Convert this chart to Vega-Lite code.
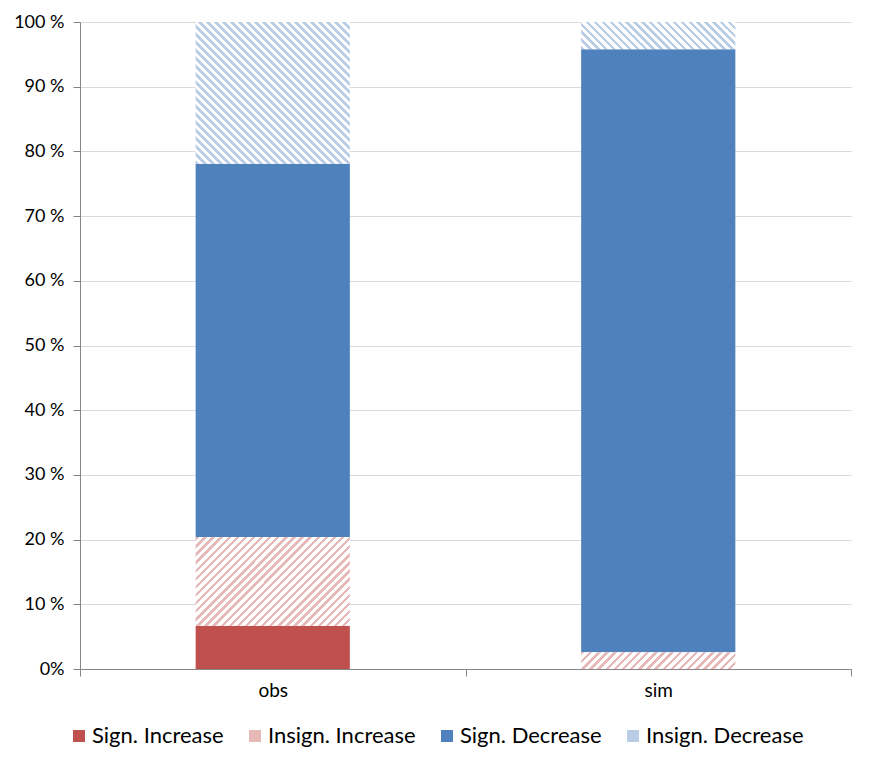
{
  "$schema": "https://vega.github.io/schema/vega-lite/v6.json",
  "width": 771,
  "height": 647,
  "autosize": "none",
  "padding": {"left": 80, "top": 22, "right": 18, "bottom": 97},
  "background": "#ffffff",
  "config": {
    "view": {"stroke": null},
    "font": "Lato",
    "axis": {"labelFont": "Lato", "labelColor": "#000000"}
  },
  "data": {
    "values": [
      {"bar": "obs", "cat": "Sign. Increase", "rank": 1, "pct": 6.7},
      {"bar": "obs", "cat": "Insign. Increase", "rank": 2, "pct": 13.7},
      {"bar": "obs", "cat": "Sign. Decrease", "rank": 3, "pct": 57.7},
      {"bar": "obs", "cat": "Insign. Decrease", "rank": 4, "pct": 21.9},
      {"bar": "sim", "cat": "Sign. Increase", "rank": 1, "pct": 0},
      {"bar": "sim", "cat": "Insign. Increase", "rank": 2, "pct": 2.6},
      {"bar": "sim", "cat": "Sign. Decrease", "rank": 3, "pct": 93.2},
      {"bar": "sim", "cat": "Insign. Decrease", "rank": 4, "pct": 4.2}
    ]
  },
  "transform": [
    {"stack": "pct", "groupby": ["bar"], "sort": [{"field": "rank", "order": "ascending"}], "as": ["y0", "y1"]}
  ],
  "encoding": {
    "x": {
      "field": "bar", "type": "nominal",
      "scale": {"paddingInner": 0, "paddingOuter": 0},
      "axis": {"title": null, "labelAngle": 0, "labelFontSize": 19, "tickBand": "extent", "tickSize": 7, "tickColor": "#868686", "domainColor": "#868686", "labelPadding": 5, "grid": false}
    },
    "y": {
      "field": "y0", "type": "quantitative",
      "scale": {"domain": [0, 100], "nice": false},
      "axis": {"title": null, "labelFontSize": 18, "values": [0, 10, 20, 30, 40, 50, 60, 70, 80, 90, 100], "labelExpr": "datum.value == 0 ? '0%' : datum.value + ' %'", "tickSize": 7, "tickColor": "#868686", "domainColor": "#868686", "gridColor": "#d9d9d9", "labelPadding": 9}
    },
    "y2": {"field": "y1"}
  },
  "layer": [
    {
      "transform": [{"filter": "datum.rank == 1 || datum.rank == 3"}],
      "mark": {"type": "bar", "width": {"band": 0.4}},
      "encoding": {
        "color": {
          "field": "cat", "type": "nominal",
          "scale": {
            "domain": ["Sign. Increase", "Insign. Increase", "Sign. Decrease", "Insign. Decrease"],
            "range": ["#c0504d", "#e6b9b8", "#4f81bd", "#b9cde5"]
          },
          "legend": {
            "orient": "none", "legendX": -12, "legendY": 703, "direction": "horizontal", "title": null,
            "labelFont": "Lato", "labelFontSize": 22, "labelColor": "#000000",
            "symbolType": "square", "symbolSize": 144, "symbolStrokeWidth": 0, "symbolOpacity": 1,
            "columnPadding": 20, "labelOffset": 2, "padding": 0
          }
        }
      }
    },
    {
      "transform": [{"filter": "datum.bar == 'obs' && datum.rank == 2"}],
      "mark": {"type": "bar", "width": {"band": 0.4}, "fill": {"gradient": "linear", "x1": 0, "y1": 0, "x2": 1.1838, "y2": 0.6802, "stops": [
        {"offset": 0, "color": "#e6b9b8"}, {"offset": 0.014, "color": "#e6b9b8"}, {"offset": 0.014, "color": "#ffffff"}, {"offset": 0.0333, "color": "#ffffff"},
        {"offset": 0.0333, "color": "#e6b9b8"}, {"offset": 0.0473, "color": "#e6b9b8"}, {"offset": 0.0473, "color": "#ffffff"}, {"offset": 0.0667, "color": "#ffffff"},
        {"offset": 0.0667, "color": "#e6b9b8"}, {"offset": 0.0807, "color": "#e6b9b8"}, {"offset": 0.0807, "color": "#ffffff"}, {"offset": 0.1, "color": "#ffffff"},
        {"offset": 0.1, "color": "#e6b9b8"}, {"offset": 0.114, "color": "#e6b9b8"}, {"offset": 0.114, "color": "#ffffff"}, {"offset": 0.1333, "color": "#ffffff"},
        {"offset": 0.1333, "color": "#e6b9b8"}, {"offset": 0.1473, "color": "#e6b9b8"}, {"offset": 0.1473, "color": "#ffffff"}, {"offset": 0.1667, "color": "#ffffff"},
        {"offset": 0.1667, "color": "#e6b9b8"}, {"offset": 0.1807, "color": "#e6b9b8"}, {"offset": 0.1807, "color": "#ffffff"}, {"offset": 0.2, "color": "#ffffff"},
        {"offset": 0.2, "color": "#e6b9b8"}, {"offset": 0.214, "color": "#e6b9b8"}, {"offset": 0.214, "color": "#ffffff"}, {"offset": 0.2333, "color": "#ffffff"},
        {"offset": 0.2333, "color": "#e6b9b8"}, {"offset": 0.2473, "color": "#e6b9b8"}, {"offset": 0.2473, "color": "#ffffff"}, {"offset": 0.2667, "color": "#ffffff"},
        {"offset": 0.2667, "color": "#e6b9b8"}, {"offset": 0.2807, "color": "#e6b9b8"}, {"offset": 0.2807, "color": "#ffffff"}, {"offset": 0.3, "color": "#ffffff"},
        {"offset": 0.3, "color": "#e6b9b8"}, {"offset": 0.314, "color": "#e6b9b8"}, {"offset": 0.314, "color": "#ffffff"}, {"offset": 0.3333, "color": "#ffffff"},
        {"offset": 0.3333, "color": "#e6b9b8"}, {"offset": 0.3473, "color": "#e6b9b8"}, {"offset": 0.3473, "color": "#ffffff"}, {"offset": 0.3667, "color": "#ffffff"},
        {"offset": 0.3667, "color": "#e6b9b8"}, {"offset": 0.3807, "color": "#e6b9b8"}, {"offset": 0.3807, "color": "#ffffff"}, {"offset": 0.4, "color": "#ffffff"},
        {"offset": 0.4, "color": "#e6b9b8"}, {"offset": 0.414, "color": "#e6b9b8"}, {"offset": 0.414, "color": "#ffffff"}, {"offset": 0.4333, "color": "#ffffff"},
        {"offset": 0.4333, "color": "#e6b9b8"}, {"offset": 0.4473, "color": "#e6b9b8"}, {"offset": 0.4473, "color": "#ffffff"}, {"offset": 0.4667, "color": "#ffffff"},
        {"offset": 0.4667, "color": "#e6b9b8"}, {"offset": 0.4807, "color": "#e6b9b8"}, {"offset": 0.4807, "color": "#ffffff"}, {"offset": 0.5, "color": "#ffffff"},
        {"offset": 0.5, "color": "#e6b9b8"}, {"offset": 0.514, "color": "#e6b9b8"}, {"offset": 0.514, "color": "#ffffff"}, {"offset": 0.5333, "color": "#ffffff"},
        {"offset": 0.5333, "color": "#e6b9b8"}, {"offset": 0.5473, "color": "#e6b9b8"}, {"offset": 0.5473, "color": "#ffffff"}, {"offset": 0.5667, "color": "#ffffff"},
        {"offset": 0.5667, "color": "#e6b9b8"}, {"offset": 0.5807, "color": "#e6b9b8"}, {"offset": 0.5807, "color": "#ffffff"}, {"offset": 0.6, "color": "#ffffff"},
        {"offset": 0.6, "color": "#e6b9b8"}, {"offset": 0.614, "color": "#e6b9b8"}, {"offset": 0.614, "color": "#ffffff"}, {"offset": 0.6333, "color": "#ffffff"},
        {"offset": 0.6333, "color": "#e6b9b8"}, {"offset": 0.6473, "color": "#e6b9b8"}, {"offset": 0.6473, "color": "#ffffff"}, {"offset": 0.6667, "color": "#ffffff"},
        {"offset": 0.6667, "color": "#e6b9b8"}, {"offset": 0.6807, "color": "#e6b9b8"}, {"offset": 0.6807, "color": "#ffffff"}, {"offset": 0.7, "color": "#ffffff"},
        {"offset": 0.7, "color": "#e6b9b8"}, {"offset": 0.714, "color": "#e6b9b8"}, {"offset": 0.714, "color": "#ffffff"}, {"offset": 0.7333, "color": "#ffffff"},
        {"offset": 0.7333, "color": "#e6b9b8"}, {"offset": 0.7473, "color": "#e6b9b8"}, {"offset": 0.7473, "color": "#ffffff"}, {"offset": 0.7667, "color": "#ffffff"},
        {"offset": 0.7667, "color": "#e6b9b8"}, {"offset": 0.7807, "color": "#e6b9b8"}, {"offset": 0.7807, "color": "#ffffff"}, {"offset": 0.8, "color": "#ffffff"},
        {"offset": 0.8, "color": "#e6b9b8"}, {"offset": 0.814, "color": "#e6b9b8"}, {"offset": 0.814, "color": "#ffffff"}, {"offset": 0.8333, "color": "#ffffff"},
        {"offset": 0.8333, "color": "#e6b9b8"}, {"offset": 0.8473, "color": "#e6b9b8"}, {"offset": 0.8473, "color": "#ffffff"}, {"offset": 0.8667, "color": "#ffffff"},
        {"offset": 0.8667, "color": "#e6b9b8"}, {"offset": 0.8807, "color": "#e6b9b8"}, {"offset": 0.8807, "color": "#ffffff"}, {"offset": 0.9, "color": "#ffffff"},
        {"offset": 0.9, "color": "#e6b9b8"}, {"offset": 0.914, "color": "#e6b9b8"}, {"offset": 0.914, "color": "#ffffff"}, {"offset": 0.9333, "color": "#ffffff"},
        {"offset": 0.9333, "color": "#e6b9b8"}, {"offset": 0.9473, "color": "#e6b9b8"}, {"offset": 0.9473, "color": "#ffffff"}, {"offset": 0.9667, "color": "#ffffff"},
        {"offset": 0.9667, "color": "#e6b9b8"}, {"offset": 0.9807, "color": "#e6b9b8"}, {"offset": 0.9807, "color": "#ffffff"}, {"offset": 1, "color": "#ffffff"}
      ]}}
    },
    {
      "transform": [{"filter": "datum.bar == 'obs' && datum.rank == 4"}],
      "mark": {"type": "bar", "width": {"band": 0.4}, "fill": {"gradient": "linear", "x1": 0, "y1": 1, "x2": 1.0404, "y2": 0.0439, "stops": [
        {"offset": 0, "color": "#b9cde5"}, {"offset": 0.0114, "color": "#b9cde5"}, {"offset": 0.0114, "color": "#ffffff"}, {"offset": 0.027, "color": "#ffffff"},
        {"offset": 0.027, "color": "#b9cde5"}, {"offset": 0.0384, "color": "#b9cde5"}, {"offset": 0.0384, "color": "#ffffff"}, {"offset": 0.0541, "color": "#ffffff"},
        {"offset": 0.0541, "color": "#b9cde5"}, {"offset": 0.0655, "color": "#b9cde5"}, {"offset": 0.0655, "color": "#ffffff"}, {"offset": 0.0811, "color": "#ffffff"},
        {"offset": 0.0811, "color": "#b9cde5"}, {"offset": 0.0925, "color": "#b9cde5"}, {"offset": 0.0925, "color": "#ffffff"}, {"offset": 0.1081, "color": "#ffffff"},
        {"offset": 0.1081, "color": "#b9cde5"}, {"offset": 0.1195, "color": "#b9cde5"}, {"offset": 0.1195, "color": "#ffffff"}, {"offset": 0.1351, "color": "#ffffff"},
        {"offset": 0.1351, "color": "#b9cde5"}, {"offset": 0.1465, "color": "#b9cde5"}, {"offset": 0.1465, "color": "#ffffff"}, {"offset": 0.1622, "color": "#ffffff"},
        {"offset": 0.1622, "color": "#b9cde5"}, {"offset": 0.1736, "color": "#b9cde5"}, {"offset": 0.1736, "color": "#ffffff"}, {"offset": 0.1892, "color": "#ffffff"},
        {"offset": 0.1892, "color": "#b9cde5"}, {"offset": 0.2006, "color": "#b9cde5"}, {"offset": 0.2006, "color": "#ffffff"}, {"offset": 0.2162, "color": "#ffffff"},
        {"offset": 0.2162, "color": "#b9cde5"}, {"offset": 0.2276, "color": "#b9cde5"}, {"offset": 0.2276, "color": "#ffffff"}, {"offset": 0.2432, "color": "#ffffff"},
        {"offset": 0.2432, "color": "#b9cde5"}, {"offset": 0.2546, "color": "#b9cde5"}, {"offset": 0.2546, "color": "#ffffff"}, {"offset": 0.2703, "color": "#ffffff"},
        {"offset": 0.2703, "color": "#b9cde5"}, {"offset": 0.2817, "color": "#b9cde5"}, {"offset": 0.2817, "color": "#ffffff"}, {"offset": 0.2973, "color": "#ffffff"},
        {"offset": 0.2973, "color": "#b9cde5"}, {"offset": 0.3087, "color": "#b9cde5"}, {"offset": 0.3087, "color": "#ffffff"}, {"offset": 0.3243, "color": "#ffffff"},
        {"offset": 0.3243, "color": "#b9cde5"}, {"offset": 0.3357, "color": "#b9cde5"}, {"offset": 0.3357, "color": "#ffffff"}, {"offset": 0.3514, "color": "#ffffff"},
        {"offset": 0.3514, "color": "#b9cde5"}, {"offset": 0.3628, "color": "#b9cde5"}, {"offset": 0.3628, "color": "#ffffff"}, {"offset": 0.3784, "color": "#ffffff"},
        {"offset": 0.3784, "color": "#b9cde5"}, {"offset": 0.3898, "color": "#b9cde5"}, {"offset": 0.3898, "color": "#ffffff"}, {"offset": 0.4054, "color": "#ffffff"},
        {"offset": 0.4054, "color": "#b9cde5"}, {"offset": 0.4168, "color": "#b9cde5"}, {"offset": 0.4168, "color": "#ffffff"}, {"offset": 0.4324, "color": "#ffffff"},
        {"offset": 0.4324, "color": "#b9cde5"}, {"offset": 0.4438, "color": "#b9cde5"}, {"offset": 0.4438, "color": "#ffffff"}, {"offset": 0.4595, "color": "#ffffff"},
        {"offset": 0.4595, "color": "#b9cde5"}, {"offset": 0.4709, "color": "#b9cde5"}, {"offset": 0.4709, "color": "#ffffff"}, {"offset": 0.4865, "color": "#ffffff"},
        {"offset": 0.4865, "color": "#b9cde5"}, {"offset": 0.4979, "color": "#b9cde5"}, {"offset": 0.4979, "color": "#ffffff"}, {"offset": 0.5135, "color": "#ffffff"},
        {"offset": 0.5135, "color": "#b9cde5"}, {"offset": 0.5249, "color": "#b9cde5"}, {"offset": 0.5249, "color": "#ffffff"}, {"offset": 0.5405, "color": "#ffffff"},
        {"offset": 0.5405, "color": "#b9cde5"}, {"offset": 0.5519, "color": "#b9cde5"}, {"offset": 0.5519, "color": "#ffffff"}, {"offset": 0.5676, "color": "#ffffff"},
        {"offset": 0.5676, "color": "#b9cde5"}, {"offset": 0.579, "color": "#b9cde5"}, {"offset": 0.579, "color": "#ffffff"}, {"offset": 0.5946, "color": "#ffffff"},
        {"offset": 0.5946, "color": "#b9cde5"}, {"offset": 0.606, "color": "#b9cde5"}, {"offset": 0.606, "color": "#ffffff"}, {"offset": 0.6216, "color": "#ffffff"},
        {"offset": 0.6216, "color": "#b9cde5"}, {"offset": 0.633, "color": "#b9cde5"}, {"offset": 0.633, "color": "#ffffff"}, {"offset": 0.6486, "color": "#ffffff"},
        {"offset": 0.6486, "color": "#b9cde5"}, {"offset": 0.66, "color": "#b9cde5"}, {"offset": 0.66, "color": "#ffffff"}, {"offset": 0.6757, "color": "#ffffff"},
        {"offset": 0.6757, "color": "#b9cde5"}, {"offset": 0.6871, "color": "#b9cde5"}, {"offset": 0.6871, "color": "#ffffff"}, {"offset": 0.7027, "color": "#ffffff"},
        {"offset": 0.7027, "color": "#b9cde5"}, {"offset": 0.7141, "color": "#b9cde5"}, {"offset": 0.7141, "color": "#ffffff"}, {"offset": 0.7297, "color": "#ffffff"},
        {"offset": 0.7297, "color": "#b9cde5"}, {"offset": 0.7411, "color": "#b9cde5"}, {"offset": 0.7411, "color": "#ffffff"}, {"offset": 0.7568, "color": "#ffffff"},
        {"offset": 0.7568, "color": "#b9cde5"}, {"offset": 0.7682, "color": "#b9cde5"}, {"offset": 0.7682, "color": "#ffffff"}, {"offset": 0.7838, "color": "#ffffff"},
        {"offset": 0.7838, "color": "#b9cde5"}, {"offset": 0.7952, "color": "#b9cde5"}, {"offset": 0.7952, "color": "#ffffff"}, {"offset": 0.8108, "color": "#ffffff"},
        {"offset": 0.8108, "color": "#b9cde5"}, {"offset": 0.8222, "color": "#b9cde5"}, {"offset": 0.8222, "color": "#ffffff"}, {"offset": 0.8378, "color": "#ffffff"},
        {"offset": 0.8378, "color": "#b9cde5"}, {"offset": 0.8492, "color": "#b9cde5"}, {"offset": 0.8492, "color": "#ffffff"}, {"offset": 0.8649, "color": "#ffffff"},
        {"offset": 0.8649, "color": "#b9cde5"}, {"offset": 0.8763, "color": "#b9cde5"}, {"offset": 0.8763, "color": "#ffffff"}, {"offset": 0.8919, "color": "#ffffff"},
        {"offset": 0.8919, "color": "#b9cde5"}, {"offset": 0.9033, "color": "#b9cde5"}, {"offset": 0.9033, "color": "#ffffff"}, {"offset": 0.9189, "color": "#ffffff"},
        {"offset": 0.9189, "color": "#b9cde5"}, {"offset": 0.9303, "color": "#b9cde5"}, {"offset": 0.9303, "color": "#ffffff"}, {"offset": 0.9459, "color": "#ffffff"},
        {"offset": 0.9459, "color": "#b9cde5"}, {"offset": 0.9573, "color": "#b9cde5"}, {"offset": 0.9573, "color": "#ffffff"}, {"offset": 0.973, "color": "#ffffff"},
        {"offset": 0.973, "color": "#b9cde5"}, {"offset": 0.9844, "color": "#b9cde5"}, {"offset": 0.9844, "color": "#ffffff"}, {"offset": 1, "color": "#ffffff"}
      ]}}
    },
    {
      "transform": [{"filter": "datum.bar == 'sim' && datum.rank == 2"}],
      "mark": {"type": "bar", "width": {"band": 0.4}, "fill": {"gradient": "linear", "x1": 0, "y1": 0, "x2": 1.096, "y2": 0.1194, "stops": [
        {"offset": 0, "color": "#e6b9b8"}, {"offset": 0.02, "color": "#e6b9b8"}, {"offset": 0.02, "color": "#ffffff"}, {"offset": 0.0476, "color": "#ffffff"},
        {"offset": 0.0476, "color": "#e6b9b8"}, {"offset": 0.0676, "color": "#e6b9b8"}, {"offset": 0.0676, "color": "#ffffff"}, {"offset": 0.0952, "color": "#ffffff"},
        {"offset": 0.0952, "color": "#e6b9b8"}, {"offset": 0.1152, "color": "#e6b9b8"}, {"offset": 0.1152, "color": "#ffffff"}, {"offset": 0.1429, "color": "#ffffff"},
        {"offset": 0.1429, "color": "#e6b9b8"}, {"offset": 0.1629, "color": "#e6b9b8"}, {"offset": 0.1629, "color": "#ffffff"}, {"offset": 0.1905, "color": "#ffffff"},
        {"offset": 0.1905, "color": "#e6b9b8"}, {"offset": 0.2105, "color": "#e6b9b8"}, {"offset": 0.2105, "color": "#ffffff"}, {"offset": 0.2381, "color": "#ffffff"},
        {"offset": 0.2381, "color": "#e6b9b8"}, {"offset": 0.2581, "color": "#e6b9b8"}, {"offset": 0.2581, "color": "#ffffff"}, {"offset": 0.2857, "color": "#ffffff"},
        {"offset": 0.2857, "color": "#e6b9b8"}, {"offset": 0.3057, "color": "#e6b9b8"}, {"offset": 0.3057, "color": "#ffffff"}, {"offset": 0.3333, "color": "#ffffff"},
        {"offset": 0.3333, "color": "#e6b9b8"}, {"offset": 0.3533, "color": "#e6b9b8"}, {"offset": 0.3533, "color": "#ffffff"}, {"offset": 0.381, "color": "#ffffff"},
        {"offset": 0.381, "color": "#e6b9b8"}, {"offset": 0.401, "color": "#e6b9b8"}, {"offset": 0.401, "color": "#ffffff"}, {"offset": 0.4286, "color": "#ffffff"},
        {"offset": 0.4286, "color": "#e6b9b8"}, {"offset": 0.4486, "color": "#e6b9b8"}, {"offset": 0.4486, "color": "#ffffff"}, {"offset": 0.4762, "color": "#ffffff"},
        {"offset": 0.4762, "color": "#e6b9b8"}, {"offset": 0.4962, "color": "#e6b9b8"}, {"offset": 0.4962, "color": "#ffffff"}, {"offset": 0.5238, "color": "#ffffff"},
        {"offset": 0.5238, "color": "#e6b9b8"}, {"offset": 0.5438, "color": "#e6b9b8"}, {"offset": 0.5438, "color": "#ffffff"}, {"offset": 0.5714, "color": "#ffffff"},
        {"offset": 0.5714, "color": "#e6b9b8"}, {"offset": 0.5914, "color": "#e6b9b8"}, {"offset": 0.5914, "color": "#ffffff"}, {"offset": 0.619, "color": "#ffffff"},
        {"offset": 0.619, "color": "#e6b9b8"}, {"offset": 0.639, "color": "#e6b9b8"}, {"offset": 0.639, "color": "#ffffff"}, {"offset": 0.6667, "color": "#ffffff"},
        {"offset": 0.6667, "color": "#e6b9b8"}, {"offset": 0.6867, "color": "#e6b9b8"}, {"offset": 0.6867, "color": "#ffffff"}, {"offset": 0.7143, "color": "#ffffff"},
        {"offset": 0.7143, "color": "#e6b9b8"}, {"offset": 0.7343, "color": "#e6b9b8"}, {"offset": 0.7343, "color": "#ffffff"}, {"offset": 0.7619, "color": "#ffffff"},
        {"offset": 0.7619, "color": "#e6b9b8"}, {"offset": 0.7819, "color": "#e6b9b8"}, {"offset": 0.7819, "color": "#ffffff"}, {"offset": 0.8095, "color": "#ffffff"},
        {"offset": 0.8095, "color": "#e6b9b8"}, {"offset": 0.8295, "color": "#e6b9b8"}, {"offset": 0.8295, "color": "#ffffff"}, {"offset": 0.8571, "color": "#ffffff"},
        {"offset": 0.8571, "color": "#e6b9b8"}, {"offset": 0.8771, "color": "#e6b9b8"}, {"offset": 0.8771, "color": "#ffffff"}, {"offset": 0.9048, "color": "#ffffff"},
        {"offset": 0.9048, "color": "#e6b9b8"}, {"offset": 0.9248, "color": "#e6b9b8"}, {"offset": 0.9248, "color": "#ffffff"}, {"offset": 0.9524, "color": "#ffffff"},
        {"offset": 0.9524, "color": "#e6b9b8"}, {"offset": 0.9724, "color": "#e6b9b8"}, {"offset": 0.9724, "color": "#ffffff"}, {"offset": 1, "color": "#ffffff"}
      ]}}
    },
    {
      "transform": [{"filter": "datum.bar == 'sim' && datum.rank == 4"}],
      "mark": {"type": "bar", "width": {"band": 0.4}, "fill": {"gradient": "linear", "x1": 0, "y1": 1, "x2": 1.1409, "y2": 0.7988, "stops": [
        {"offset": 0, "color": "#b9cde5"}, {"offset": 0.0183, "color": "#b9cde5"}, {"offset": 0.0183, "color": "#ffffff"}, {"offset": 0.0435, "color": "#ffffff"},
        {"offset": 0.0435, "color": "#b9cde5"}, {"offset": 0.0618, "color": "#b9cde5"}, {"offset": 0.0618, "color": "#ffffff"}, {"offset": 0.087, "color": "#ffffff"},
        {"offset": 0.087, "color": "#b9cde5"}, {"offset": 0.1053, "color": "#b9cde5"}, {"offset": 0.1053, "color": "#ffffff"}, {"offset": 0.1304, "color": "#ffffff"},
        {"offset": 0.1304, "color": "#b9cde5"}, {"offset": 0.1487, "color": "#b9cde5"}, {"offset": 0.1487, "color": "#ffffff"}, {"offset": 0.1739, "color": "#ffffff"},
        {"offset": 0.1739, "color": "#b9cde5"}, {"offset": 0.1922, "color": "#b9cde5"}, {"offset": 0.1922, "color": "#ffffff"}, {"offset": 0.2174, "color": "#ffffff"},
        {"offset": 0.2174, "color": "#b9cde5"}, {"offset": 0.2357, "color": "#b9cde5"}, {"offset": 0.2357, "color": "#ffffff"}, {"offset": 0.2609, "color": "#ffffff"},
        {"offset": 0.2609, "color": "#b9cde5"}, {"offset": 0.2792, "color": "#b9cde5"}, {"offset": 0.2792, "color": "#ffffff"}, {"offset": 0.3043, "color": "#ffffff"},
        {"offset": 0.3043, "color": "#b9cde5"}, {"offset": 0.3226, "color": "#b9cde5"}, {"offset": 0.3226, "color": "#ffffff"}, {"offset": 0.3478, "color": "#ffffff"},
        {"offset": 0.3478, "color": "#b9cde5"}, {"offset": 0.3661, "color": "#b9cde5"}, {"offset": 0.3661, "color": "#ffffff"}, {"offset": 0.3913, "color": "#ffffff"},
        {"offset": 0.3913, "color": "#b9cde5"}, {"offset": 0.4096, "color": "#b9cde5"}, {"offset": 0.4096, "color": "#ffffff"}, {"offset": 0.4348, "color": "#ffffff"},
        {"offset": 0.4348, "color": "#b9cde5"}, {"offset": 0.4531, "color": "#b9cde5"}, {"offset": 0.4531, "color": "#ffffff"}, {"offset": 0.4783, "color": "#ffffff"},
        {"offset": 0.4783, "color": "#b9cde5"}, {"offset": 0.4966, "color": "#b9cde5"}, {"offset": 0.4966, "color": "#ffffff"}, {"offset": 0.5217, "color": "#ffffff"},
        {"offset": 0.5217, "color": "#b9cde5"}, {"offset": 0.54, "color": "#b9cde5"}, {"offset": 0.54, "color": "#ffffff"}, {"offset": 0.5652, "color": "#ffffff"},
        {"offset": 0.5652, "color": "#b9cde5"}, {"offset": 0.5835, "color": "#b9cde5"}, {"offset": 0.5835, "color": "#ffffff"}, {"offset": 0.6087, "color": "#ffffff"},
        {"offset": 0.6087, "color": "#b9cde5"}, {"offset": 0.627, "color": "#b9cde5"}, {"offset": 0.627, "color": "#ffffff"}, {"offset": 0.6522, "color": "#ffffff"},
        {"offset": 0.6522, "color": "#b9cde5"}, {"offset": 0.6705, "color": "#b9cde5"}, {"offset": 0.6705, "color": "#ffffff"}, {"offset": 0.6957, "color": "#ffffff"},
        {"offset": 0.6957, "color": "#b9cde5"}, {"offset": 0.714, "color": "#b9cde5"}, {"offset": 0.714, "color": "#ffffff"}, {"offset": 0.7391, "color": "#ffffff"},
        {"offset": 0.7391, "color": "#b9cde5"}, {"offset": 0.7574, "color": "#b9cde5"}, {"offset": 0.7574, "color": "#ffffff"}, {"offset": 0.7826, "color": "#ffffff"},
        {"offset": 0.7826, "color": "#b9cde5"}, {"offset": 0.8009, "color": "#b9cde5"}, {"offset": 0.8009, "color": "#ffffff"}, {"offset": 0.8261, "color": "#ffffff"},
        {"offset": 0.8261, "color": "#b9cde5"}, {"offset": 0.8444, "color": "#b9cde5"}, {"offset": 0.8444, "color": "#ffffff"}, {"offset": 0.8696, "color": "#ffffff"},
        {"offset": 0.8696, "color": "#b9cde5"}, {"offset": 0.8879, "color": "#b9cde5"}, {"offset": 0.8879, "color": "#ffffff"}, {"offset": 0.913, "color": "#ffffff"},
        {"offset": 0.913, "color": "#b9cde5"}, {"offset": 0.9313, "color": "#b9cde5"}, {"offset": 0.9313, "color": "#ffffff"}, {"offset": 0.9565, "color": "#ffffff"},
        {"offset": 0.9565, "color": "#b9cde5"}, {"offset": 0.9748, "color": "#b9cde5"}, {"offset": 0.9748, "color": "#ffffff"}, {"offset": 1, "color": "#ffffff"}
      ]}}
    }
  ]
}
